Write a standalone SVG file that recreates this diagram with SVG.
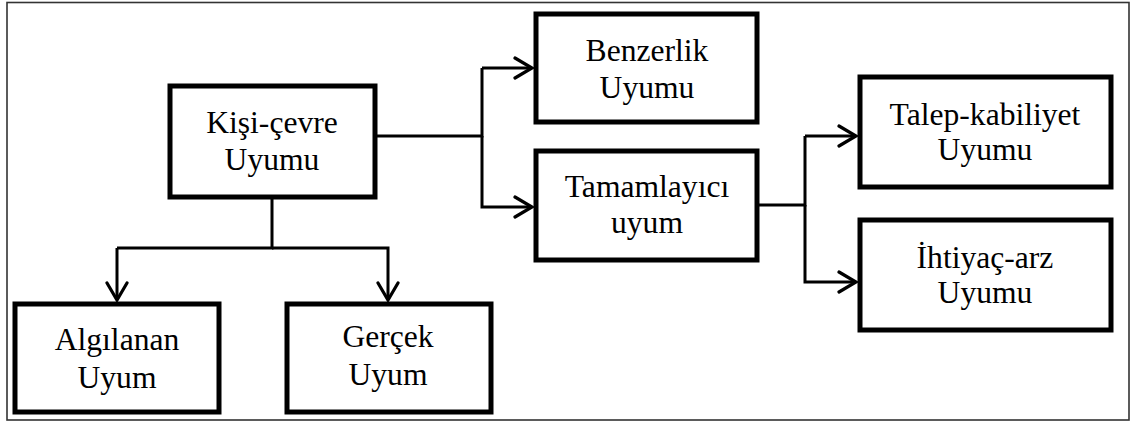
<svg xmlns="http://www.w3.org/2000/svg" width="1140" height="423" viewBox="0 0 1140 423">
  <style>
    .box { fill: #fff; stroke: #000; stroke-width: 5; }
    .lbl { font-family: "Liberation Serif", "Times New Roman", serif; font-size: 31.6px; fill: #000; text-anchor: middle; }
    .wire { fill: none; stroke: #000; stroke-width: 3; }
    .arrow { marker-end: url(#chev); }
  </style>
  <defs>
    <marker id="chev" markerUnits="userSpaceOnUse" markerWidth="24" markerHeight="24" viewBox="-20 -12 24 24" refX="0" refY="0" orient="auto">
      <path d="M-17,-10 L0,0 L-17,10" fill="none" stroke="#000" stroke-width="3.2" stroke-linecap="round" stroke-linejoin="miter"/>
    </marker>
  </defs>

  <rect x="0" y="0" width="1140" height="423" fill="#fff"/>
  <!-- outer frame -->
  <rect x="7" y="2.5" width="1122" height="417.5" fill="none" stroke="#333" stroke-width="1.6"/>

  <g id="connectors">
    <!-- Kişi-çevre to the two fit types on the right -->
    <path class="wire" d="M375,136 H482 V68"/>
    <path class="wire arrow" d="M482,68 H532"/>
    <path class="wire arrow" d="M482,136 V207 H532"/>
    <!-- Tamamlayıcı to its two subtypes -->
    <path class="wire" d="M757,205 H805 V136"/>
    <path class="wire arrow" d="M805,136 H856"/>
    <path class="wire arrow" d="M805,205 V282 H856"/>
    <!-- Kişi-çevre down to perceived / actual fit -->
    <path class="wire" d="M272,197 V248 H117"/>
    <path class="wire arrow" d="M117,248 V300"/>
    <path class="wire arrow" d="M272,248 H388 V300"/>
  </g>

  <g id="kisi-cevre">
    <rect class="box" x="170" y="86" width="205" height="111"/>
    <text class="lbl" x="272" y="133">Kişi-çevre</text>
    <text class="lbl" x="272" y="170">Uyumu</text>
  </g>

  <g id="benzerlik">
    <rect class="box" x="536" y="14" width="221" height="108"/>
    <text class="lbl" x="647" y="61">Benzerlik</text>
    <text class="lbl" x="647" y="98">Uyumu</text>
  </g>

  <g id="tamamlayici">
    <rect class="box" x="536" y="151" width="221" height="109"/>
    <text class="lbl" x="647" y="197">Tamamlayıcı</text>
    <text class="lbl" x="647" y="233">uyum</text>
  </g>

  <g id="talep-kabiliyet">
    <rect class="box" x="860" y="77" width="251" height="110"/>
    <text class="lbl" x="985" y="125">Talep-kabiliyet</text>
    <text class="lbl" x="985" y="160">Uyumu</text>
  </g>

  <g id="ihtiyac-arz">
    <rect class="box" x="860" y="220" width="251" height="110"/>
    <text class="lbl" x="985" y="268">İhtiyaç-arz</text>
    <text class="lbl" x="985" y="303">Uyumu</text>
  </g>

  <g id="algilanan">
    <rect class="box" x="15" y="304" width="204" height="108"/>
    <text class="lbl" x="117" y="350">Algılanan</text>
    <text class="lbl" x="117" y="388">Uyum</text>
  </g>

  <g id="gercek">
    <rect class="box" x="287" y="304" width="204" height="108"/>
    <text class="lbl" x="388" y="347">Gerçek</text>
    <text class="lbl" x="388" y="385">Uyum</text>
  </g>
</svg>
